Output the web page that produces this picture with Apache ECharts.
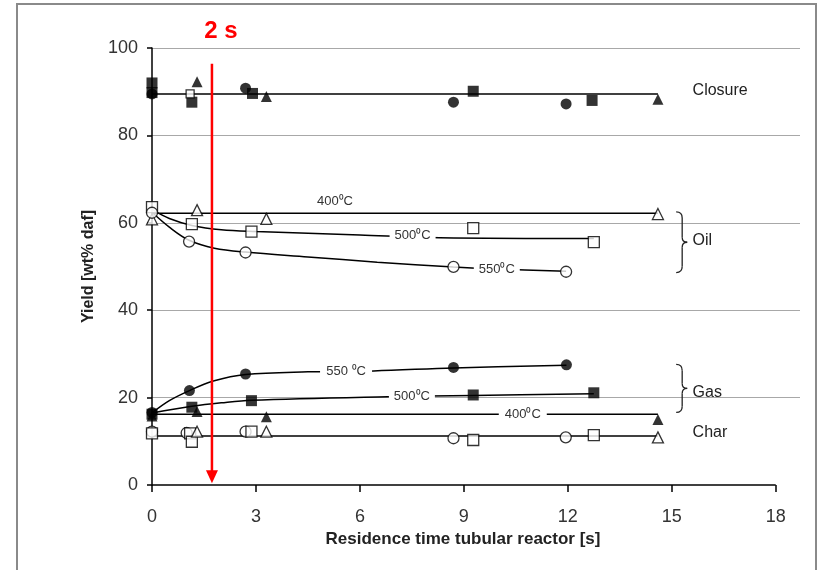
<!DOCTYPE html>
<html>
<head>
<meta charset="utf-8">
<script src="https://cdn.jsdelivr.net/npm/echarts@6/dist/echarts.min.js"></script>
<style>
  html, body { margin: 0; background: #fff; }
  #main { width: 821px; height: 570px; }
</style>
</head>
<body>
<div id="main"></div>
<script>
var xTickValues = [0, 3, 6, 9, 12, 15, 18];

// closure
var closureSquares = [[0, 92], [0, 89.8], [1.15, 87.6], [2.9, 89.6], [9.27, 90.1], [12.7, 88]];
var closureOpenSquares = [[1.1, 89.5]];
var closureCircles = [[0, 89.5], [2.7, 90.8], [8.7, 87.6], [11.95, 87.2]];
var closureTriangles = [[1.3, 92.3], [3.3, 88.9], [14.6, 88.3]];
var closureFit = [[0, 89.5], [14.6, 89.5]];

// oil
var oil400 = [[0, 60.8], [1.3, 62.9], [3.3, 60.9], [14.6, 62]];
var oil500 = [[0, 63.6], [1.15, 59.7], [2.87, 58], [9.27, 58.8], [12.75, 55.6]];
var oil550 = [[0, 62.3], [1.07, 55.7], [2.7, 53.2], [8.7, 49.9], [11.95, 48.8]];
var oil400Fit = [[0, 62.2], [14.6, 62.2]];
var oil500Fit = [[0, 63], [0.5, 61], [1.15, 59.4], [2, 58.4], [3, 58], [6, 57.2], [8.3, 56.6], [12.75, 56.4]];
var oil550Fit = [[0, 62.4], [0.5, 59], [1.07, 56], [1.8, 54.2], [2.7, 53.3], [4.5, 52.2], [6.5, 51], [8.7, 49.9], [10, 49.4], [11.95, 48.9]];

// gas
var gas550 = [[0, 16.6], [1.08, 21.6], [2.7, 25.4], [8.7, 26.9], [11.96, 27.5]];
var gas500 = [[0, 16.2], [1.15, 17.8], [2.87, 19.3], [9.27, 20.6], [12.75, 21.1]];
var gas400 = [[0, 15.8], [1.3, 16.8], [3.3, 15.6], [14.6, 15]];
var gas550Fit = [[0, 16.5], [0.5, 19.3], [1.08, 21.6], [1.77, 23.8], [2.7, 25.3], [4.5, 25.9], [6.4, 26.1], [8.7, 26.8], [11.96, 27.4]];
var gas500Fit = [[0, 16.5], [1.15, 18], [2, 18.8], [2.87, 19.4], [6.8, 20.2], [9.27, 20.5], [12.75, 20.9]];
var gas400Fit = [[0, 16.2], [14.6, 16.2]];

// char
var charCircles = [[0, 12.2], [1.0, 11.9], [2.7, 12.2], [8.7, 10.7], [11.94, 10.9]];
var charSquares = [[0, 11.8], [1.1, 11.8], [1.15, 9.9], [2.87, 12.2], [9.27, 10.3], [12.75, 11.4]];
var charTriangles = [[1.3, 12.2], [3.3, 12.2], [14.6, 10.9]];
var charFit = [[0, 11.2], [14.6, 11.2]];

var FONT = '"Liberation Sans", Arial, sans-serif';

function points(data, symbol, filled, size) {
  return {
    type: 'scatter',
    data: data,
    symbol: symbol,
    symbolSize: size || 11,
    itemStyle: filled
      ? { color: '#000' }
      : { color: '#fff', borderColor: '#000', borderWidth: 1.3 },
    z: 4,
    silent: true
  };
}

function tag(text, coord, w) {
  return {
    coord: coord,
    symbol: 'rect',
    symbolSize: [w, 13],
    itemStyle: { color: '#fff' },
    label: {
      show: true, position: 'inside', formatter: text,
      color: '#333', fontSize: 13, fontFamily: FONT
    }
  };
}

function fit(data, smooth, tags) {
  var s = {
    type: 'line',
    data: data,
    symbol: 'none',
    smooth: smooth,
    lineStyle: { color: '#000', width: 1.5 },
    z: 3,
    silent: true
  };
  if (tags) s.markPoint = { silent: true, data: tags };
  return s;
}

var chart = echarts.init(document.getElementById('main'));

chart.setOption({
  animation: false,
  backgroundColor: '#fff',
  grid: { left: 152, right: 21, top: 48, bottom: 85 },
  xAxis: {
    type: 'value',
    min: 0,
    max: 18.7,
    interval: 3,
    axisLine: { show: false },
    axisTick: { show: true, customValues: xTickValues, length: 7, lineStyle: { color: '#000', width: 1.5 } },
    axisLabel: {
      customValues: xTickValues, margin: 23, color: '#333', fontSize: 18, fontFamily: FONT,
      formatter: function (v) { return v % 3 === 0 ? v : ''; }
    },
    splitLine: { show: false },
    name: 'Residence time tubular reactor [s]',
    nameLocation: 'middle',
    nameGap: 44,
    nameTextStyle: { color: '#222', fontSize: 17, fontWeight: 'bold', fontFamily: FONT, padding: [0, 26, 0, 0] }
  },
  yAxis: {
    type: 'value',
    min: 0,
    max: 100,
    interval: 20,
    axisLine: { show: true, lineStyle: { color: '#000', width: 1.5 } },
    axisTick: { show: true, length: 5, lineStyle: { color: '#000', width: 1.5 } },
    axisLabel: { margin: 14, color: '#333', fontSize: 18, fontFamily: FONT },
    splitLine: { show: true, showMinLine: false, lineStyle: { color: '#a8a8a8', width: 1 } },
    name: 'Yield [wt% daf]',
    nameLocation: 'middle',
    nameGap: 41,
    nameTextStyle: { color: '#222', fontSize: 16, fontWeight: 'bold', fontFamily: FONT }
  },
  series: [
    // x axis line drawn only up to 18
    {
      type: 'line', data: [], silent: true,
      markLine: {
        silent: true, symbol: 'none', label: { show: false },
        lineStyle: { color: '#000', width: 1.5, type: 'solid' },
        data: [[{ coord: [0, 0] }, { coord: [18, 0] }]]
      }
    },
    fit(closureFit, false),
    fit(oil400Fit, false, [tag('400⁰C', [5.28, 64.8], 40)]),
    fit(oil500Fit, 0.35, [tag('500⁰C', [7.52, 57.0], 46)]),
    fit(oil550Fit, 0.35, [tag('550⁰C', [9.95, 49.3], 46)]),
    fit(gas550Fit, 0.35, [tag('550 ⁰C', [5.6, 26.0], 52)]),
    fit(gas500Fit, 0.35, [tag('500⁰C', [7.5, 20.3], 46)]),
    fit(gas400Fit, false, [tag('400⁰C', [10.7, 16.2], 48)]),
    fit(charFit, false),

    points(closureCircles, 'circle', true),
    points(closureSquares, 'rect', true),
    points(closureOpenSquares, 'rect', false, 8),
    points(closureTriangles, 'triangle', true),

    points(oil400, 'triangle', false),
    points(oil500, 'rect', false),
    points(oil550, 'circle', false),

    points(gas550, 'circle', true),
    points(gas500, 'rect', true),
    points(gas400, 'triangle', true),

    points(charCircles, 'circle', false),
    points(charSquares, 'rect', false),
    points(charTriangles, 'triangle', false)
  ]
});

// annotations placed from data coordinates
function px(p) { return chart.convertToPixel({ gridIndex: 0 }, p); }

function brace(x, yTop, yBot) {
  var a = px([x, yTop]), b = px([x, yBot]);
  var cx = a[0], t = a[1], bt = b[1], m = (t + bt) / 2;
  var st = { fill: 'none', stroke: '#222', lineWidth: 1.3 };
  function curve(x1, y1, qx, qy, x2, y2) {
    return { type: 'bezierCurve', shape: { x1: x1, y1: y1, x2: x2, y2: y2, cpx1: qx, cpy1: qy }, style: st };
  }
  function seg(x1, y1, x2, y2) {
    return { type: 'line', shape: { x1: x1, y1: y1, x2: x2, y2: y2 }, style: st };
  }
  return {
    type: 'group', z: 10, silent: true,
    children: [
      curve(cx - 6, t, cx, t, cx, t + 6),
      seg(cx, t + 6, cx, m - 5),
      curve(cx, m - 5, cx, m, cx + 5, m),
      curve(cx + 5, m, cx, m, cx, m + 5),
      seg(cx, m + 5, cx, bt - 6),
      curve(cx, bt - 6, cx, bt, cx - 6, bt)
    ]
  };
}

function sideText(text, p) {
  var q = px(p);
  return {
    type: 'text', x: q[0], y: q[1], z: 10, silent: true,
    style: { text: text, fill: '#222', font: '16px ' + FONT, verticalAlign: 'middle', align: 'left' }
  };
}

var arrowTop = px([1.73, 96.4]);
var arrowNeck = px([1.73, 3.4]);
var arrowTip = px([1.73, 0.4]);
var label2s = px([1.99, 103.8]);

chart.setOption({
  graphic: [
    {
      type: 'rect', shape: { x: 17, y: 4, width: 799, height: 580 },
      style: { fill: 'none', stroke: '#8a8a8a', lineWidth: 2 }, z: 1, silent: true
    },
    brace(15.3, 62.5, 48.6),
    brace(15.3, 27.6, 16.6),
    sideText('Closure', [15.6, 90.3]),
    sideText('Oil', [15.6, 55.9]),
    sideText('Gas', [15.6, 21.2]),
    sideText('Char', [15.6, 12.0]),
    {
      type: 'line', z: 20, silent: true,
      shape: { x1: arrowTop[0], y1: arrowTop[1], x2: arrowNeck[0], y2: arrowNeck[1] + 1 },
      style: { stroke: '#ff0000', lineWidth: 2.5 }
    },
    {
      type: 'polygon', z: 20, silent: true,
      shape: { points: [[arrowNeck[0] - 6, arrowNeck[1]], [arrowNeck[0] + 6, arrowNeck[1]], [arrowTip[0], arrowTip[1]]] },
      style: { fill: '#ff0000' }
    },
    {
      type: 'text', x: label2s[0], y: label2s[1], z: 20, silent: true,
      style: { text: '2 s', fill: '#ff0000', font: 'bold 24px ' + FONT, align: 'center', verticalAlign: 'middle' }
    }
  ]
});
</script>
</body>
</html>
